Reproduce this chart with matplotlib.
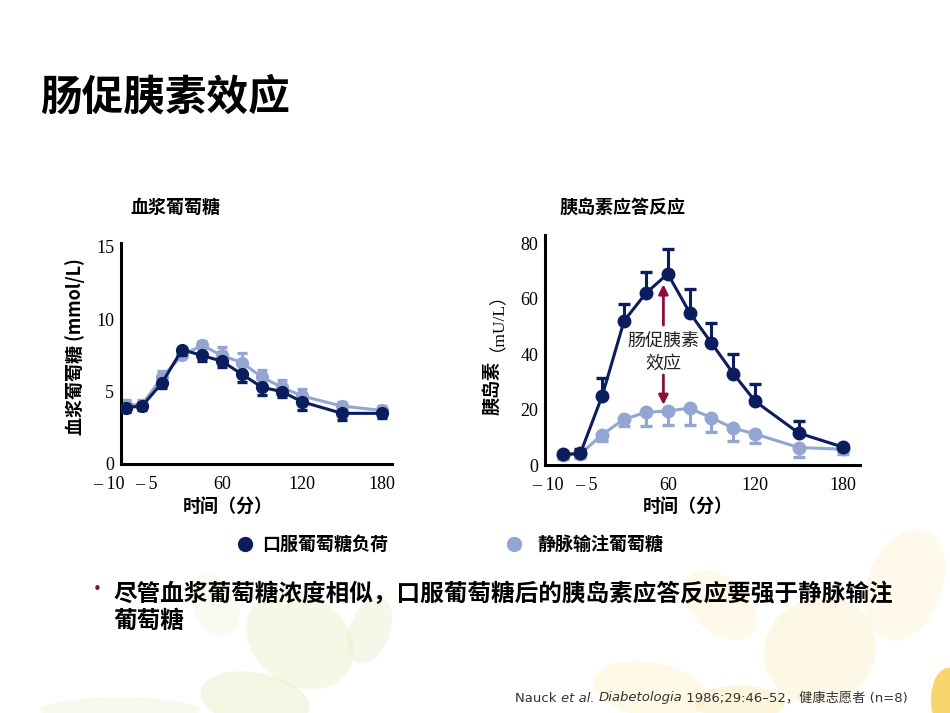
import matplotlib
matplotlib.use('Agg')
import matplotlib.pyplot as plt
from matplotlib.patches import Ellipse
from matplotlib.lines import Line2D
import numpy as np

plt.rcParams['font.family'] = ['Noto Sans CJK SC', 'DejaVu Sans']

# ---------------- data ----------------
time_min = [-12, 0, 15, 30, 45, 60, 75, 90, 105, 120, 150, 180]

glucose_oral = [3.9, 4.0, 5.6, 7.9, 7.5, 7.1, 6.2, 5.3, 5.0, 4.3, 3.5, 3.5]
glucose_oral_err = [0.3, 0.3, 0.35, 0.4, 0.4, 0.4, 0.5, 0.5, 0.4, 0.6, 0.45, 0.35]   # lower bars
glucose_iv = [4.1, 4.1, 6.0, 7.5, 8.2, 7.5, 7.0, 6.0, 5.3, 4.7, 4.0, 3.7]
glucose_iv_err = [0.3, 0.3, 0.4, 0.5, 0.3, 0.6, 0.7, 0.5, 0.5, 0.5, 0.3, 0.3]        # upper bars

insulin_oral = [3.8, 4.2, 25, 52, 62, 69, 55, 44, 33, 23, 11.5, 6.5]
insulin_oral_err = [0.5, 1.5, 6.3, 6.0, 7.8, 9.0, 8.5, 7.2, 7.2, 6.2, 4.5, 0.5]    # upper bars
insulin_iv = [3.5, 4.0, 11, 16.5, 19, 19.5, 20.5, 17, 13.3, 11.2, 6.3, 5.7]
insulin_iv_err = [1.5, 1.5, 2.5, 2.5, 4.8, 5.0, 6.0, 5.0, 4.6, 3.2, 3.4, 1.8]     # lower bars

xtick_labels = ['– 10', '– 5', '60', '120', '180']
glu_yticks = [0, 5, 10, 15]
ins_yticks = [0, 20, 40, 60, 80]

series_labels = ['口服葡萄糖负荷', '静脉输注葡萄糖']

# ---------------- style ----------------
DARK = '#0c1d5e'
LIGHT = '#93a6d2'
ARROW = '#8a0f3f'
W, H = 950, 713

fig = plt.figure(figsize=(9.5, 7.13), dpi=100)
fig.patch.set_facecolor('white')

def fx(px):
    return px / W

def fy(py):
    return 1 - py / H

# background decoration (faded leaves)
bg = fig.add_axes([0, 0, 1, 1], zorder=-5)
bg.set_xlim(0, W)
bg.set_ylim(H, 0)
bg.axis('off')
leaves = [
    ((300, 640), 115, 90, 35, '#e4eec0', 0.4),
    ((255, 700), 110, 55, 10, '#dce9b0', 0.35),
    ((370, 630), 40, 70, 20, '#e3edbf', 0.35),
    ((215, 605), 45, 65, -25, '#eef3d6', 0.35),
    ((120, 710), 160, 25, 0, '#dfe9b8', 0.25),
    ((720, 605), 85, 55, 40, '#fdf1c8', 0.4),
    ((650, 690), 115, 55, 10, '#fdf0c0', 0.4),
    ((820, 650), 115, 105, -30, '#fcedb8', 0.35),
    ((905, 585), 75, 115, 20, '#fdf2cc', 0.4),
    ((948, 700), 34, 64, 0, '#f6c83c', 0.75),
    ((740, 703), 90, 35, 0, '#fbe49a', 0.35),
]
for (c, w, h, a, col, al) in leaves:
    bg.add_patch(Ellipse(c, w, h, angle=a, color=col, alpha=al, lw=0))

serif = ['Liberation Serif', 'Noto Sans CJK SC']


def draw_panel(ax, y1, e1, y2, e2, dark_up, xlim, ylim, yticks, xlab_pos, cap, ms):
    ax.set_xlim(*xlim)
    ax.set_ylim(*ylim)
    for s in ['top', 'right']:
        ax.spines[s].set_visible(False)
    for s in ['left', 'bottom']:
        ax.spines[s].set_linewidth(2.2)
        ax.spines[s].set_color('black')
    ax.set_facecolor('none')
    ax.set_xticks([])
    ax.set_yticks(yticks)
    ax.set_yticklabels([str(v) for v in yticks], fontfamily=serif, fontsize=13)
    ax.tick_params(axis='y', length=0, pad=5)
    t = np.array(time_min, dtype=float)
    y1 = np.array(y1); e1 = np.array(e1)
    y2 = np.array(y2); e2 = np.array(e2)
    # light series (IV)
    top2 = y2 + e2 if dark_up is False else y2 - e2
    ax.vlines(t, y2, top2, color=LIGHT, lw=2.2, zorder=2)
    ax.plot(t, top2, ls='none', marker='_', ms=cap, mew=2.4, color=LIGHT, zorder=2)
    ax.plot(t, y2, color=LIGHT, lw=2.2, marker='o', ms=ms, zorder=2.5)
    # dark series (oral)
    top1 = y1 + e1 if dark_up else y1 - e1
    ax.vlines(t, y1, top1, color=DARK, lw=2.2, zorder=3)
    ax.plot(t, top1, ls='none', marker='_', ms=cap, mew=2.4, color=DARK, zorder=3)
    ax.plot(t, y1, color=DARK, lw=2.2, marker='o', ms=ms, zorder=3.5)
    for xp, lab in zip(xlab_pos, xtick_labels):
        ax.annotate(lab, xy=(xp, 0), xycoords=('data', 'axes fraction'),
                    xytext=(0, -15), textcoords='offset points',
                    ha='center', va='center', fontsize=13, fontfamily=serif,
                    annotation_clip=False)


# left panel: plasma glucose
ax1 = fig.add_axes([fx(121), fy(464), fx(392) - fx(121), fy(243) - fy(464)])
draw_panel(ax1, glucose_oral, glucose_oral_err, glucose_iv, glucose_iv_err,
           dark_up=False, xlim=(-15.75, 187.5), ylim=(0, 15.27), yticks=glu_yticks,
           xlab_pos=[-25, 3, 60, 120, 180], cap=7, ms=8.5)

# right panel: insulin
ax2 = fig.add_axes([fx(545), fy(465), fx(860) - fx(545), fy(235) - fy(465)])
draw_panel(ax2, insulin_oral, insulin_oral_err, insulin_iv, insulin_iv_err,
           dark_up=True, xlim=(-24.3, 192), ylim=(0, 83), yticks=ins_yticks,
           xlab_pos=[-22, 4, 60, 120, 180], cap=9, ms=9)

# annotation in the insulin panel
ax2.text(57, 40.6, '肠促胰素\n效应', ha='center', va='center', fontsize=13,
         color='#222222', linespacing=1.25, zorder=5)
ax2.annotate('', xy=(57, 65.2), xytext=(57, 50.5),
             arrowprops=dict(arrowstyle='-|>', color=ARROW, lw=2, mutation_scale=14,
                             shrinkA=0, shrinkB=0), zorder=5)
ax2.annotate('', xy=(57, 21.7), xytext=(57, 32.5),
             arrowprops=dict(arrowstyle='-|>', color=ARROW, lw=2, mutation_scale=14,
                             shrinkA=0, shrinkB=0), zorder=5)

# titles and labels
fig.text(fx(40), fy(97), '肠促胰素效应', fontsize=30, fontweight='bold', va='center', ha='left')
fig.text(fx(130), fy(207), '血浆葡萄糖', fontsize=13, fontweight='bold', va='center', ha='left')
fig.text(fx(560), fy(207), '胰岛素应答反应', fontsize=13, fontweight='bold', va='center', ha='left')

fig.text(fx(228), fy(507), '时间（分）', fontsize=13, fontweight='bold', ha='center', va='center')
fig.text(fx(688), fy(507), '时间（分）', fontsize=13, fontweight='bold', ha='center', va='center')

fig.text(fx(75), fy(347), '血浆葡萄糖 (mmol/L)', fontsize=13, fontweight='bold',
         rotation=90, ha='center', va='center')
fig.text(fx(492), fy(388), '胰岛素', fontsize=13, fontweight='bold',
         rotation=90, ha='center', va='center')
fig.text(fx(489), fy(313), '（mU/L）', fontsize=12.5, fontfamily=serif,
         rotation=90, ha='center', va='center')

# legend
fig.add_artist(Line2D([fx(245)], [fy(544)], marker='o', ms=10, color=DARK, ls='none',
                      transform=fig.transFigure))
fig.text(fx(262), fy(544), series_labels[0], fontsize=13, fontweight='bold', va='center', ha='left')
fig.add_artist(Line2D([fx(514)], [fy(544)], marker='o', ms=10, color=LIGHT, ls='none',
                      transform=fig.transFigure))
fig.text(fx(537), fy(544), series_labels[1], fontsize=13, fontweight='bold', va='center', ha='left')

# bullet text
fig.text(fx(97), fy(590), '•', color=ARROW, fontsize=15, ha='center', va='center')
fig.text(fx(113), fy(594), '尽管血浆葡萄糖浓度相似，口服葡萄糖后的胰岛素应答反应要强于静脉输注',
         fontsize=17, fontweight='bold', va='center', ha='left')
fig.text(fx(113), fy(621), '葡萄糖', fontsize=17, fontweight='bold', va='center', ha='left')

# footer (pieces laid out one after another)
fig.canvas.draw()
renderer = fig.canvas.get_renderer()
pieces = [('Nauck ', 'normal'), ('et al.', 'italic'), (' ', 'normal'),
          ('Diabetologia', 'italic'), (' 1986;29:46–52，健康志愿者 (n=8)', 'normal')]
xcur = fx(515)
for txt, style in pieces:
    t = fig.text(xcur, fy(698), txt, fontsize=9.5, style=style, color='#333333',
                 va='center', ha='left', family=['DejaVu Sans', 'Noto Sans CJK SC'])
    bb = t.get_window_extent(renderer=renderer)
    xcur += bb.width / fig.bbox.width

fig.savefig('out.png', dpi=100, facecolor='white')
